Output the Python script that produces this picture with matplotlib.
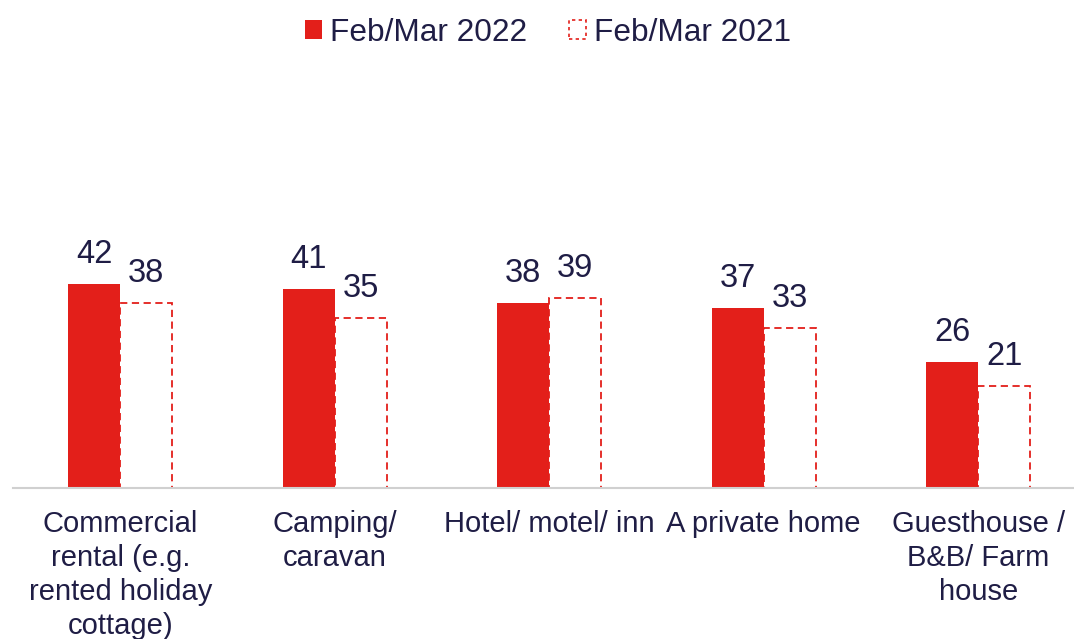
import matplotlib
matplotlib.use("Agg")
import matplotlib.pyplot as plt
import numpy as np
from matplotlib.patches import Patch

categories = ["Commercial\nrental (e.g.\nrented holiday\ncottage)", "Camping/\ncaravan",
              "Hotel/ motel/ inn", "A private home", "Guesthouse /\nB&B/ Farm\nhouse"]
series_2022 = [42, 41, 38, 37, 26]
series_2021 = [38, 35, 39, 33, 21]
legend_labels = ["Feb/Mar 2022", "Feb/Mar 2021"]

RED = "#E31F1A"
TXT = "#1F1D45"
plt.rcParams['font.family'] = ['Liberation Sans', 'DejaVu Sans']

fig = plt.figure(figsize=(10.74, 6.39), dpi=100)
ax = fig.add_axes([13/1074, (639-488)/639, 1072.5/1074, (488-60)/639])
x = np.arange(len(categories))
w = 0.243
b1 = ax.bar(x - w/2, series_2022, w, color=RED, edgecolor='none')
b2 = ax.bar(x + w/2, series_2021, w, facecolor='white', edgecolor=RED,
            linestyle=(0, (4, 2.5)), linewidth=1.3)
for rect, v in zip(b1, series_2022):
    ax.annotate(str(v), (rect.get_x() + rect.get_width()/2, v), xytext=(0, 10),
                textcoords='offset points', ha='center', va='bottom', fontsize=23.5, color=TXT)
for rect, v in zip(b2, series_2021):
    ax.annotate(str(v), (rect.get_x() + rect.get_width()/2, v), xytext=(0, 10),
                textcoords='offset points', ha='center', va='bottom', fontsize=23.5, color=TXT)

ax.set_xlim(-0.5, 4.5)
ax.set_ylim(0, 88)
ax.set_xticks(x)
ax.set_xticklabels(categories, fontsize=21, color=TXT, linespacing=1.27)
ax.tick_params(axis='x', length=0, pad=16)
ax.set_yticks([])
for s in ['top', 'right', 'left']:
    ax.spines[s].set_visible(False)
ax.spines['bottom'].set_color('#D0D0D0')
ax.spines['bottom'].set_linewidth(1.5)
ax.set_zorder(1)

handles = [Patch(facecolor=RED, edgecolor='none'),
           Patch(facecolor='white', edgecolor=RED, linestyle=(0, (2, 2)), linewidth=1.2)]
fig.legend(handles, legend_labels, loc='center', bbox_to_anchor=(548/1074, 1 - 33/639),
           ncol=2, frameon=False, fontsize=22.8, handlelength=0.55, handleheight=0.55,
           handletextpad=0.25, columnspacing=1.3, labelcolor=TXT)

fig.savefig("out.png", dpi=100)
